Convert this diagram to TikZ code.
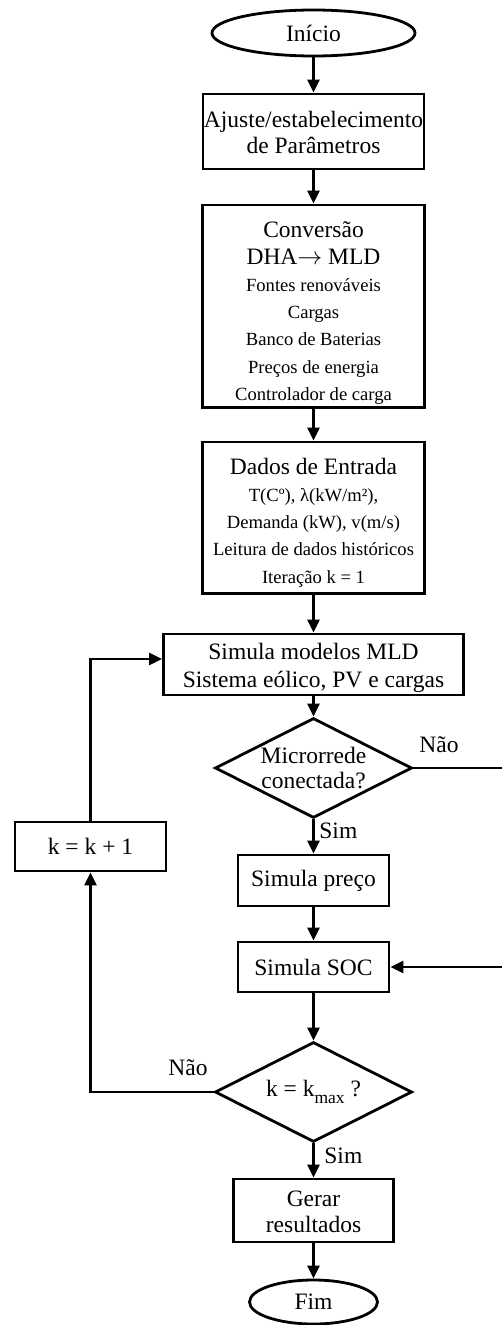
\documentclass[tikz,border=0pt]{standalone}
\usepackage{fontspec}
\setmainfont{Liberation Serif}
\usetikzlibrary{shapes.geometric,arrows.meta,calc}

% type sizes: main text and the smaller detail lines
\newcommand{\fsmain}[1][27.3]{\fontsize{23.5}{#1}\selectfont}
\newcommand{\fsdetail}[1][27.3]{\fontsize{18.6}{#1}\selectfont}
% struts that fix the top and bottom margins of multi-line boxes
\newcommand{\topgap}[1]{\rule{0pt}{#1}}
\newcommand{\botgap}[1]{\rule[-#1]{0pt}{#1}}

\begin{document}
\begin{tikzpicture}[x=1pt,y=-1pt,
  line width=2.8pt,
  flow/.style={-{Triangle[length=13pt,width=12pt]}},
  procbox/.style={draw, rectangle, inner sep=0pt, align=center},
  terminal/.style={draw, ellipse, inner sep=0pt, font=\fsmain},
  decision/.style={draw, diamond, shape aspect=2, inner sep=0pt,
                   minimum width=197pt, minimum height=100pt, align=center},
  tag/.style={anchor=base west, inner sep=0pt, font=\fsmain}
]
\fill[white] (0,0) rectangle (501,1325);
\useasboundingbox (0,0) rectangle (501,1325);

% main column
\node[terminal, minimum width=203pt, minimum height=46pt] (start) at (313.5,33) {Início};

\node[procbox, minimum width=221pt, font={\fsmain[26]}] (params) at (313.5,131.5)
  {\topgap{33pt}Ajuste/estabelecimento\\de Parâmetros\botgap{16pt}};

\node[procbox, minimum width=222pt, font={\fsdetail[27.2]}] (conv) at (313.5,306.1)
  {\topgap{32pt}{\fsmain[27.2]Conversão}\\
   {\fsmain[27.2]DHA$\rightarrow$ MLD}\\
   Fontes renováveis\\
   Cargas\\
   Banco de Baterias\\
   Preços de energia\\
   Controlador de carga\botgap{7pt}};

\node[procbox, minimum width=222pt, font=\fsdetail] (input) at (313.5,517.6)
  {\topgap{32pt}{\fsmain Dados de Entrada}\\
   T(Cº), λ(kW/m²),\\
   Demanda (kW), v(m/s)\\
   Leitura de dados históricos\\
   Iteração k = 1\botgap{10pt}};

\node[procbox, minimum width=300pt, font={\fsmain[28]}] (sim) at (313.5,664.5)
  {\topgap{25pt}Simula modelos MLD\\Sistema eólico, PV e cargas\botgap{8pt}};

\node[decision, font={\fsmain[25]}] (grid) at (313.5,768) {Microrrede\\conectada?};

\node[procbox, minimum width=151pt, minimum height=51pt, font=\fsmain] (price) at (313.5,880.5)
  {Simula preço};

\node[procbox, minimum width=151pt, minimum height=50pt, font=\fsmain] (soc) at (313.5,967)
  {Simula SOC};

\node[decision, font=\fsmain] (kmax) at (313.5,1092)
  {k = k\raisebox{-7pt}{\fontsize{17.5}{17.5}\selectfont max} ?};

\node[procbox, minimum width=160pt, font={\fsmain[26]}] (results) at (313.5,1210.5)
  {\topgap{27pt}Gerar\\resultados\botgap{10pt}};

\node[terminal, minimum width=128pt, minimum height=44pt] (stop) at (313.5,1302) {Fim};

% counter box of the loop
\node[procbox, minimum width=151pt, minimum height=49pt, font=\fsmain] (incr) at (90.5,846.5)
  {k = k + 1};

% branch labels
\node[tag] (yes1) at (318,838) {Sim};
\node[tag] (no1) at (418,752) {Não};
\node[tag] (no2) at (167,1075) {Não};
\node[tag] (yes2) at (323,1163) {Sim};

% main flow
\draw[flow] (start) -- (params);
\draw[flow] (params) -- (conv);
\draw[flow] (conv) -- (input);
\draw[flow] (input) -- (sim);
\draw[flow] (sim) -- (grid);
\draw[flow] (grid) -- (price);
\draw[flow] (price) -- (soc);
\draw[flow] (soc) -- (kmax);
\draw[flow] (kmax) -- (results);
\draw[flow] (results) -- (stop);

% island branch running down the right edge
\coordinate (rightTop) at (504,768);
\coordinate (rightBot) at (504,967);
\draw[flow] (grid.east) -- (rightTop) -- (rightBot) -- (soc.east);

% iteration loop on the left
\coordinate (loopIn) at ($(sim.west)+(0,-5.5)$);
\draw[flow] (kmax.west) -- (kmax.west -| incr) -- (incr.south);
\draw[flow] (incr.north) |- (loopIn);
\end{tikzpicture}
\end{document}
